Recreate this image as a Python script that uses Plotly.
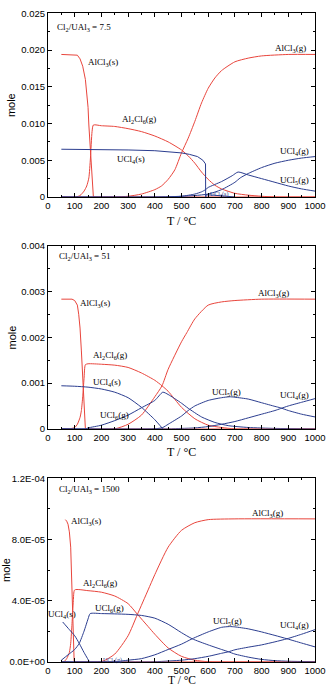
import plotly.graph_objects as go

RED = "#e8453c"
BLUE = "#2b3d8f"

# ---------------- Panel 1 : Cl2/UAl3 = 7.5 ----------------
p1_alcl3s_x = [50, 100, 110, 120, 130, 140, 145, 150, 153, 158, 163, 168, 170, 1000]
p1_alcl3s_y = [0.0194, 0.0194, 0.0193, 0.0188, 0.0178, 0.0160, 0.0145, 0.0122, 0.0098, 0.0065, 0.0030, 0.0005, 0, 0]
p1_al2cl6_x = [50, 105, 120, 135, 145, 153, 159, 165, 170, 200, 250, 300, 350, 400, 450, 500, 525, 550, 575, 600, 625, 650, 700, 750, 800, 850, 1000]
p1_al2cl6_y = [0, 0, 0.0002, 0.0008, 0.0015, 0.0026, 0.0053, 0.0089, 0.0098, 0.0097, 0.0096, 0.0093, 0.0089, 0.0083, 0.0075, 0.0064, 0.0056, 0.0046, 0.0034, 0.0024, 0.0016, 0.0011, 0.0005, 0.00025, 0.0001, 0, 0]
p1_alcl3g_x = [50, 250, 300, 350, 400, 425, 450, 475, 500, 525, 550, 575, 600, 625, 650, 700, 750, 800, 900, 1000]
p1_alcl3g_y = [0, 0, 0.0001, 0.0004, 0.0010, 0.0015, 0.0024, 0.0037, 0.0060, 0.0080, 0.0103, 0.0128, 0.0148, 0.0162, 0.0172, 0.0184, 0.0189, 0.0192, 0.0194, 0.0194]
p1_ucl4s_x = [50, 100, 200, 300, 400, 450, 500, 530, 560, 580, 588, 590, 590.5]
p1_ucl4s_y = [0.0065, 0.0065, 0.0065, 0.0064, 0.0063, 0.0062, 0.0060, 0.0058, 0.0055, 0.0050, 0.0046, 0.0045, 0]
p1_ucl4g_x = [50, 400, 450, 500, 550, 600, 650, 700, 720, 750, 800, 850, 900, 950, 1000]
p1_ucl4g_y = [0, 0, 0.00003, 0.0001, 0.0002, 0.0004, 0.0010, 0.0020, 0.0026, 0.0032, 0.0040, 0.0046, 0.0050, 0.0053, 0.0055]
p1_ucl5g_x = [50, 450, 500, 550, 575, 590, 600, 650, 690, 712, 750, 800, 850, 900, 950, 1000]
p1_ucl5g_y = [0, 0, 0.0001, 0.0004, 0.0007, 0.0010, 0.0013, 0.0021, 0.0029, 0.0034, 0.0030, 0.0025, 0.0020, 0.0015, 0.0011, 0.0008]
p1_ucl3s_x = [591, 592, 620, 650, 680, 700]
p1_ucl3s_y = [0, 0.0003, 0.00025, 0.00015, 0.00005, 0]

# ---------------- Panel 2 : Cl2/UAl3 = 51 ----------------
p2_alcl3s_x = [50, 90, 100, 110, 115, 120, 125, 130, 135, 140, 1000]
p2_alcl3s_y = [0.00283, 0.00283, 0.0028, 0.0027, 0.0025, 0.0022, 0.0017, 0.0011, 0.0006, 0, 0]
p2_al2cl6_x = [50, 80, 100, 110, 120, 125, 130, 135, 140, 150, 200, 250, 300, 350, 400, 427, 450, 500, 550, 600, 650, 700, 1000]
p2_al2cl6_y = [0, 0, 0.00003, 0.0001, 0.00025, 0.0004, 0.0007, 0.0011, 0.0014, 0.00142, 0.00141, 0.00139, 0.00134, 0.00122, 0.00106, 0.00094, 0.00082, 0.00047, 0.00022, 0.00008, 0.00003, 0, 0]
p2_alcl3g_x = [50, 250, 300, 350, 400, 427, 450, 500, 520, 550, 600, 650, 700, 800, 1000]
p2_alcl3g_y = [0, 0, 0.0001, 0.0003, 0.0007, 0.00094, 0.0013, 0.0019, 0.0021, 0.0024, 0.0027, 0.00277, 0.0028, 0.00283, 0.00283]
p2_ucl4s_x = [50, 100, 150, 200, 250, 300, 350, 400, 430]
p2_ucl4s_y = [0.00094, 0.00093, 0.00091, 0.00087, 0.0008, 0.00068, 0.00047, 0.0002, 0]
p2_ucl6g_x = [50, 140, 150, 200, 250, 300, 350, 400, 430, 450, 500, 525, 575, 625, 675, 750, 850, 1000]
p2_ucl6g_y = [0, 0, 0.00002, 0.00008, 0.00018, 0.0003, 0.00046, 0.00062, 0.0008, 0.00075, 0.00056, 0.00045, 0.00026, 0.00014, 0.00007, 0.00003, 0.00001, 0]
p2_ucl5g_x = [50, 400, 430, 450, 500, 525, 550, 600, 650, 680, 700, 750, 800, 850, 870, 900, 950, 1000]
p2_ucl5g_y = [0, 0, 0.00003, 0.0001, 0.00028, 0.0004, 0.0005, 0.00062, 0.00068, 0.0007, 0.00069, 0.00065, 0.00057, 0.00049, 0.00046, 0.0004, 0.00032, 0.00026]
p2_ucl4g_x = [50, 450, 500, 550, 600, 650, 700, 750, 800, 850, 870, 900, 950, 1000]
p2_ucl4g_y = [0, 0, 0.00001, 0.00002, 0.00005, 0.0001, 0.00016, 0.00024, 0.00032, 0.0004, 0.00044, 0.0005, 0.00058, 0.00066]

# ---------------- Panel 3 : Cl2/UAl3 = 1500 ----------------
p3_alcl3s_x = [65, 70, 75, 80, 85, 88, 92, 96, 98, 1000]
p3_alcl3s_y = [9.3e-5, 9.2e-5, 9.0e-5, 8.5e-5, 7.5e-5, 6.0e-5, 3.5e-5, 1.0e-5, 0, 0]
p3_al2cl6_x = [50, 60, 70, 80, 85, 90, 95, 100, 150, 200, 250, 300, 335, 375, 400, 450, 500, 550, 600, 1000]
p3_al2cl6_y = [0, 0, 0.2e-5, 0.6e-5, 1.2e-5, 2.5e-5, 4.0e-5, 4.7e-5, 4.65e-5, 4.55e-5, 4.3e-5, 3.8e-5, 3.1e-5, 2.3e-5, 1.8e-5, 0.9e-5, 0.35e-5, 0.1e-5, 0, 0]
p3_alcl3g_x = [50, 200, 250, 300, 335, 375, 400, 450, 500, 550, 600, 700, 1000]
p3_alcl3g_y = [0, 0, 0.5e-5, 1.7e-5, 3.1e-5, 4.7e-5, 5.7e-5, 7.5e-5, 8.6e-5, 9.1e-5, 9.3e-5, 9.35e-5, 9.35e-5]
p3_ucl4s_x = [55, 80, 100, 117, 135, 155]
p3_ucl4s_y = [2.6e-5, 2.1e-5, 1.7e-5, 1.2e-5, 0.6e-5, 0]
p3_ucl6g_x = [50, 75, 100, 117, 135, 150, 158, 200, 250, 300, 350, 400, 450, 500, 540, 600, 650, 676, 700, 750, 800, 850, 900, 1000]
p3_ucl6g_y = [0.1e-5, 0.45e-5, 0.8e-5, 1.2e-5, 2.0e-5, 2.8e-5, 3.15e-5, 3.15e-5, 3.13e-5, 3.1e-5, 3.03e-5, 2.85e-5, 2.45e-5, 1.9e-5, 1.5e-5, 1.1e-5, 0.8e-5, 0.65e-5, 0.5e-5, 0.3e-5, 0.15e-5, 0.07e-5, 0.03e-5, 0]
p3_ucl5g_x = [50, 250, 300, 350, 400, 450, 500, 540, 600, 650, 680, 700, 750, 800, 850, 895, 950, 1000]
p3_ucl5g_y = [0, 0, 0.1e-5, 0.2e-5, 0.45e-5, 0.8e-5, 1.15e-5, 1.5e-5, 1.95e-5, 2.25e-5, 2.3e-5, 2.28e-5, 2.15e-5, 1.95e-5, 1.72e-5, 1.5e-5, 1.22e-5, 0.97e-5]
p3_ucl4g_x = [50, 400, 500, 550, 600, 650, 676, 700, 750, 800, 850, 895, 950, 1000]
p3_ucl4g_y = [0, 0, 0.1e-5, 0.2e-5, 0.35e-5, 0.55e-5, 0.65e-5, 0.78e-5, 0.95e-5, 1.1e-5, 1.3e-5, 1.5e-5, 1.8e-5, 2.1e-5]

# tick labels
x_ticks = [0, 100, 200, 300, 400, 500, 600, 700, 800, 900, 1000]
p1_yticks = [0, 0.005, 0.010, 0.015, 0.020, 0.025]
p1_yticktext = ["0", "0.005", "0.010", "0.015", "0.020", "0.025"]
p2_yticks = [0, 0.001, 0.002, 0.003, 0.004]
p2_yticktext = ["0", "0.001", "0.002", "0.003", "0.004"]
p3_yticks = [0, 4e-5, 8e-5, 1.2e-4]
p3_yticktext = ["0.0E+00", "4.0E-05", "8.0E-05", "1.2E-04"]

SERIF = "Liberation Serif"
SANS = "Liberation Sans"

fig = go.Figure()

def add(x, y, color, ax, shape="spline"):
    xa = "x" if ax == 1 else f"x{ax}"
    ya = "y" if ax == 1 else f"y{ax}"
    line = dict(color=color, width=1, shape=shape)
    if shape == "spline":
        line["smoothing"] = 0.6
    fig.add_trace(go.Scatter(x=x, y=y, mode="lines", line=line,
                             xaxis=xa, yaxis=ya, showlegend=False, hoverinfo="skip"))

# panel 1
add(p1_alcl3s_x, p1_alcl3s_y, RED, 1, "linear")
add(p1_al2cl6_x, p1_al2cl6_y, RED, 1)
add(p1_alcl3g_x, p1_alcl3g_y, RED, 1)
add(p1_ucl4s_x, p1_ucl4s_y, BLUE, 1, "linear")
add(p1_ucl4g_x, p1_ucl4g_y, BLUE, 1)
add(p1_ucl5g_x, p1_ucl5g_y, BLUE, 1)
add(p1_ucl3s_x, p1_ucl3s_y, BLUE, 1, "linear")
# panel 2
add(p2_alcl3s_x, p2_alcl3s_y, RED, 2, "linear")
add(p2_al2cl6_x, p2_al2cl6_y, RED, 2)
add(p2_alcl3g_x, p2_alcl3g_y, RED, 2)
add(p2_ucl4s_x, p2_ucl4s_y, BLUE, 2)
add(p2_ucl6g_x, p2_ucl6g_y, BLUE, 2)
add(p2_ucl5g_x, p2_ucl5g_y, BLUE, 2)
add(p2_ucl4g_x, p2_ucl4g_y, BLUE, 2)
# panel 3
add(p3_alcl3s_x, p3_alcl3s_y, RED, 3, "linear")
add(p3_al2cl6_x, p3_al2cl6_y, RED, 3)
add(p3_alcl3g_x, p3_alcl3g_y, RED, 3)
add(p3_ucl4s_x, p3_ucl4s_y, BLUE, 3)
add(p3_ucl6g_x, p3_ucl6g_y, BLUE, 3)
add(p3_ucl5g_x, p3_ucl5g_y, BLUE, 3)
add(p3_ucl4g_x, p3_ucl4g_y, BLUE, 3)

L, R, T, B = 48, 11, 7, 25
W, H = 333, 687
ph = H - T - B
def py(pix):
    return (H - B - pix) / ph
def px(pix):
    return (pix - L) / (W - L - R)

domains = [[py(192.7), py(7.3)], [py(426.7), py(241.7)], [py(661.7), py(476.7)]]

common_x = dict(range=[0, 1000], tickvals=x_ticks, showline=True, mirror="ticks",
                linecolor="black", linewidth=1, ticks="inside", ticklen=4, tickcolor="black",
                tickwidth=1, showgrid=False, zeroline=False,
                tickfont=dict(family=SANS, size=9.5, color="black"),
                minor=dict(ticks="inside", ticklen=2, dtick=50, tick0=0, tickcolor="black", showgrid=False))
common_y = dict(showline=True, mirror="ticks", linecolor="black", linewidth=1,
                ticks="inside", ticklen=4, tickcolor="black", tickwidth=1,
                showgrid=False, zeroline=False,
                tickfont=dict(family=SANS, size=9.5, color="black"))

layout = dict(width=W, height=H, margin=dict(l=L, r=R, t=T, b=B),
              paper_bgcolor="white", plot_bgcolor="white", showlegend=False)
yinfo = [(0.025, p1_yticks, p1_yticktext, 0.0025),
         (0.004, p2_yticks, p2_yticktext, 0.0005),
         (1.2e-4, p3_yticks, p3_yticktext, 2e-5)]
for i in range(3):
    sx = "xaxis" if i == 0 else f"xaxis{i+1}"
    sy = "yaxis" if i == 0 else f"yaxis{i+1}"
    ya = "y" if i == 0 else f"y{i+1}"
    xa = "x" if i == 0 else f"x{i+1}"
    layout[sx] = dict(common_x, anchor=ya, domain=[0, 1])
    top, tv, tt, mn = yinfo[i]
    layout[sy] = dict(common_y, anchor=xa, domain=domains[i], range=[0, top],
                      tickvals=tv, ticktext=tt,
                      minor=dict(ticks="inside", ticklen=2, dtick=mn, tick0=0, tickcolor="black", showgrid=False))
fig.update_layout(**layout)

ann = []
def lab(text, x, y, ax, size=9, color="black", xanchor="center"):
    xr = "x" if ax == 1 else f"x{ax}"
    yr = "y" if ax == 1 else f"y{ax}"
    ann.append(dict(text=text, x=x, y=y, xref=xr, yref=yr, showarrow=False,
                    xanchor=xanchor, yanchor="middle",
                    font=dict(family=SERIF, size=size, color=color)))

# panel 1 labels
lab("Cl<sub>2</sub>/UAl<sub>3</sub> = 7.5", 25, 0.0231, 1, xanchor="left")
lab("AlCl<sub>3</sub>(s)", 205, 0.0183, 1)
lab("AlCl<sub>3</sub>(g)", 910, 0.0202, 1)
lab("Al<sub>2</sub>Cl<sub>6</sub>(g)", 341, 0.0105, 1)
lab("UCl<sub>4</sub>(s)", 310, 0.0051, 1)
lab("UCl<sub>4</sub>(g)", 923, 0.0062, 1)
lab("UCl<sub>5</sub>(g)", 923, 0.0022, 1)
lab("UCl<sub>3</sub>(s)", 640, 0.0003, 1, size=6, color=BLUE)
# panel 2 labels
lab("Cl<sub>2</sub>/UAl<sub>3</sub> = 51", 32, 0.00376, 2, xanchor="left")
lab("AlCl<sub>3</sub>(s)", 175, 0.00274, 2)
lab("AlCl<sub>3</sub>(g)", 846, 0.00295, 2)
lab("Al<sub>2</sub>Cl<sub>6</sub>(g)", 232, 0.00161, 2)
lab("UCl<sub>4</sub>(s)", 220, 0.00101, 2)
lab("UCl<sub>6</sub>(g)", 248, 0.0003, 2)
lab("UCl<sub>5</sub>(g)", 670, 0.00079, 2)
lab("UCl<sub>4</sub>(g)", 923, 0.00072, 2)
# panel 3 labels
lab("Cl<sub>2</sub>/UAl<sub>3</sub> = 1500", 32, 1.13e-4, 3, xanchor="left")
lab("AlCl<sub>3</sub>(s)", 142, 9.2e-5, 3)
lab("AlCl<sub>3</sub>(g)", 822, 9.73e-5, 3)
lab("Al<sub>2</sub>Cl<sub>6</sub>(g)", 195, 5.1e-5, 3)
lab("UCl<sub>6</sub>(g)", 232, 3.46e-5, 3)
lab("UCl<sub>4</sub>(s)", 51, 3.07e-5, 3)
lab("UCl<sub>5</sub>(g)", 673, 2.6e-5, 3)
lab("UCl<sub>4</sub>(g)", 923, 2.38e-5, 3)
lab("UCl<sub>5</sub>(g)", 240, 0.1e-5, 3, size=6, color=BLUE)

# axis titles
for ycen_pix, xpix in [(100, 10), (334, 11.5), (569, 5)]:
    ann.append(dict(text="mole", x=px(xpix), y=py(ycen_pix), xref="paper", yref="paper",
                    showarrow=False, textangle=-90, xanchor="center", yanchor="middle",
                    font=dict(family=SANS, size=11, color="black")))
for ypix in [216.7, 450]:
    ann.append(dict(text="T / °C", x=0.5, y=py(ypix), xref="paper", yref="paper",
                    showarrow=False, xanchor="center", yanchor="middle",
                    font=dict(family=SERIF, size=12, color="black")))
ann.append(dict(text="T / °C", x=0.5, y=py(688.5), xref="paper", yref="paper",
                showarrow=False, xanchor="center", yanchor="bottom",
                font=dict(family=SERIF, size=11.5, color="black")))

fig.update_layout(annotations=ann)
fig.write_html("out.html")
